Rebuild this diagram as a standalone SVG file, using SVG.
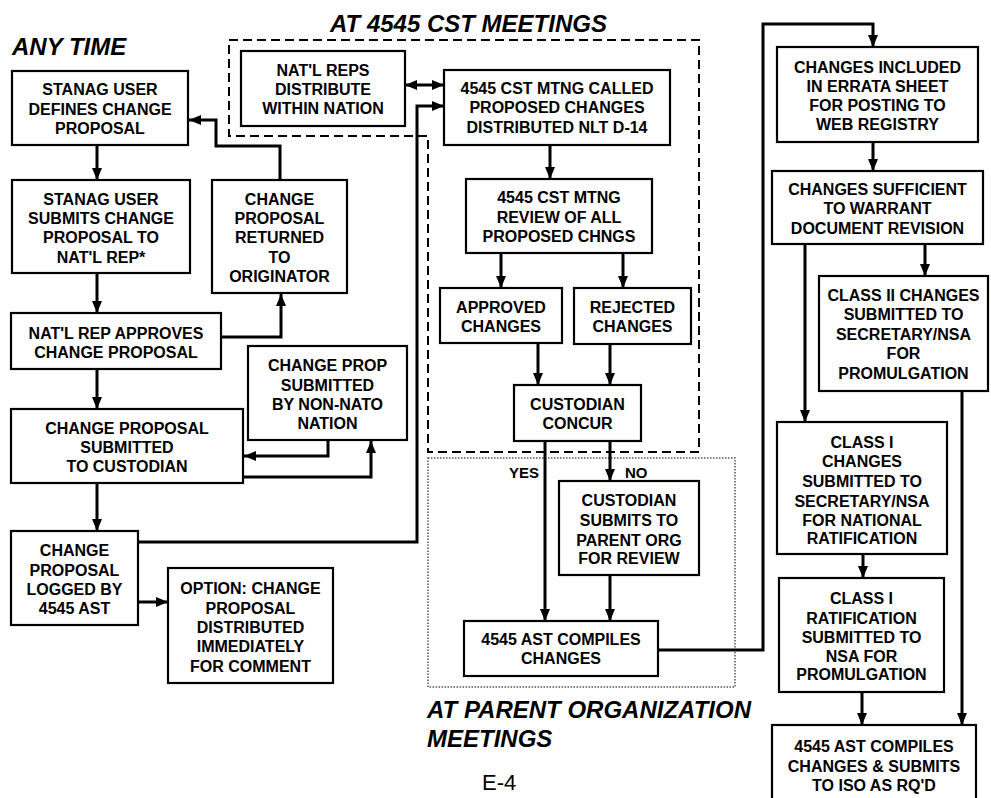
<svg xmlns="http://www.w3.org/2000/svg" width="991" height="798" viewBox="0 0 991 798">
<style>
.box{fill:#fff;stroke:#000;stroke-width:2.2}
.t{font-family:"Liberation Sans",Arial,sans-serif;font-size:16px;font-weight:bold;text-anchor:middle;fill:#000}
.h{font-family:"Liberation Sans",Arial,sans-serif;font-size:24px;font-weight:bold;font-style:italic;fill:#000}
.lbl{font-family:"Liberation Sans",Arial,sans-serif;font-size:15px;font-weight:bold;fill:#000}
.c{fill:none;stroke:#000;stroke-width:3;marker-end:url(#ah)}
.n{fill:none;stroke:#000;stroke-width:3}
</style>
<defs>
<marker id="ah" viewBox="0 0 12 10" markerWidth="12" markerHeight="10" refX="12" refY="5" orient="auto-start-reverse" markerUnits="userSpaceOnUse">
<path d="M0,0 L12,5 L0,10 z" fill="#000"/>
</marker>
</defs>
<rect width="991" height="798" fill="#fff"/>

<g id="regions">
<path d="M229,40 H699 V452 H428 V136 H229 Z" fill="none" stroke="#000" stroke-width="2" stroke-dasharray="9 5"/>
<rect x="428" y="458" width="307" height="229" fill="none" stroke="#555" stroke-width="1.5" stroke-dasharray="1.5 1.5"/>
</g>

<g id="headers">
<text class="h" x="12" y="55">ANY TIME</text>
<text class="h" x="330" y="32">AT 4545 CST MEETINGS</text>
<text class="h" x="427" y="718">AT PARENT ORGANIZATION</text>
<text class="h" x="427" y="747">MEETINGS</text>
<text x="482" y="790" font-family="Liberation Sans,Arial,sans-serif" font-size="22" fill="#000">E-4</text>
</g>

<g id="connectors">
<path class="c" d="M97,145 V180"/>
<path class="c" d="M280,180 V146 H216 V120 H189"/>
<path class="c" d="M97,273 V313"/>
<path class="c" d="M221,337 H281 V294"/>
<path class="c" d="M97,369 V409"/>
<path class="c" d="M328,440 V456 H244"/>
<path class="c" d="M243,477 H371 V441"/>
<path class="c" d="M97,483 V531"/>
<path class="c" d="M138,602 H168"/>
<path class="c" d="M138,542 H417 V106 H444"/>
<path class="c" d="M405,85 H444" marker-start="url(#ah)"/>
<path class="c" d="M550,145 V179"/>
<path class="c" d="M501,253 V288"/>
<path class="c" d="M623,253 V288"/>
<path class="c" d="M538,343 V385"/>
<path class="c" d="M610,344 V385"/>
<path class="c" d="M545,441 V621"/>
<path class="c" d="M610,441 V481"/>
<path class="c" d="M610,575 V621"/>
<path class="c" d="M658,650 H763 V24 H873 V47"/>
<path class="c" d="M873,142 V171"/>
<path class="c" d="M805,244 V422"/>
<path class="c" d="M925,244 V276"/>
<path class="c" d="M962,391 V725"/>
<path class="c" d="M863,554 V578"/>
<path class="c" d="M862,692 V725"/>
<text class="lbl" x="509" y="478">YES</text>
<text class="lbl" x="625" y="478">NO</text>
</g>

<g id="n-defines">
<rect class="box" x="12" y="71" width="176" height="74"/>
<text class="t" x="100" y="95">STANAG USER</text>
<text class="t" x="100" y="115">DEFINES CHANGE</text>
<text class="t" x="100" y="134">PROPOSAL</text>
</g>
<g id="n-submits">
<rect class="box" x="12" y="180" width="178" height="93"/>
<text class="t" x="101" y="205">STANAG USER</text>
<text class="t" x="101" y="224">SUBMITS CHANGE</text>
<text class="t" x="101" y="243">PROPOSAL TO</text>
<text class="t" x="101" y="263">NAT'L REP*</text>
</g>
<g id="n-returned">
<rect class="box" x="212" y="180" width="135" height="113"/>
<text class="t" x="279.5" y="205">CHANGE</text>
<text class="t" x="279.5" y="224">PROPOSAL</text>
<text class="t" x="279.5" y="243">RETURNED</text>
<text class="t" x="279.5" y="263">TO</text>
<text class="t" x="279.5" y="282">ORIGINATOR</text>
</g>
<g id="n-natreps">
<rect class="box" x="241" y="51" width="164" height="75"/>
<text class="t" x="323" y="76">NAT'L REPS</text>
<text class="t" x="323" y="95">DISTRIBUTE</text>
<text class="t" x="323" y="114">WITHIN NATION</text>
</g>
<g id="n-called">
<rect class="box" x="444" y="70" width="226" height="75"/>
<text class="t" x="557" y="94">4545 CST MTNG CALLED</text>
<text class="t" x="557" y="113">PROPOSED CHANGES</text>
<text class="t" x="557" y="133">DISTRIBUTED NLT D-14</text>
</g>
<g id="n-review">
<rect class="box" x="466" y="179" width="186" height="74"/>
<text class="t" x="559" y="203">4545 CST MTNG</text>
<text class="t" x="559" y="223">REVIEW OF ALL</text>
<text class="t" x="559" y="242">PROPOSED CHNGS</text>
</g>
<g id="n-approved">
<rect class="box" x="440" y="288" width="122" height="55"/>
<text class="t" x="501" y="313">APPROVED</text>
<text class="t" x="501" y="332">CHANGES</text>
</g>
<g id="n-rejected">
<rect class="box" x="574" y="288" width="117" height="56"/>
<text class="t" x="632.5" y="313">REJECTED</text>
<text class="t" x="632.5" y="332">CHANGES</text>
</g>
<g id="n-concur">
<rect class="box" x="514" y="385" width="127" height="56"/>
<text class="t" x="577.5" y="410">CUSTODIAN</text>
<text class="t" x="577.5" y="429">CONCUR</text>
</g>
<g id="n-parent">
<rect class="box" x="559" y="481" width="140" height="94"/>
<text class="t" x="629" y="506">CUSTODIAN</text>
<text class="t" x="629" y="526">SUBMITS TO</text>
<text class="t" x="629" y="546">PARENT ORG</text>
<text class="t" x="629" y="564">FOR REVIEW</text>
</g>
<g id="n-compiles">
<rect class="box" x="464" y="621" width="194" height="55"/>
<text class="t" x="561" y="645">4545 AST COMPILES</text>
<text class="t" x="561" y="664">CHANGES</text>
</g>
<g id="n-errata">
<rect class="box" x="777" y="47" width="201" height="95"/>
<text class="t" x="877.5" y="73">CHANGES INCLUDED</text>
<text class="t" x="877.5" y="92">IN ERRATA SHEET</text>
<text class="t" x="877.5" y="111">FOR POSTING TO</text>
<text class="t" x="877.5" y="130">WEB REGISTRY</text>
</g>
<g id="n-sufficient">
<rect class="box" x="772" y="171" width="211" height="73"/>
<text class="t" x="877.5" y="195">CHANGES SUFFICIENT</text>
<text class="t" x="877.5" y="214">TO WARRANT</text>
<text class="t" x="877.5" y="234">DOCUMENT REVISION</text>
</g>
<g id="n-class2">
<rect class="box" x="819" y="276" width="169" height="115"/>
<text class="t" x="903.5" y="301">CLASS II CHANGES</text>
<text class="t" x="903.5" y="320">SUBMITTED TO</text>
<text class="t" x="903.5" y="340">SECRETARY/NSA</text>
<text class="t" x="903.5" y="359">FOR</text>
<text class="t" x="903.5" y="379">PROMULGATION</text>
</g>
<g id="n-class1">
<rect class="box" x="777" y="422" width="170" height="132"/>
<text class="t" x="862" y="448">CLASS I</text>
<text class="t" x="862" y="467">CHANGES</text>
<text class="t" x="862" y="487">SUBMITTED TO</text>
<text class="t" x="862" y="507">SECRETARY/NSA</text>
<text class="t" x="862" y="526">FOR NATIONAL</text>
<text class="t" x="862" y="544">RATIFICATION</text>
</g>
<g id="n-ratification">
<rect class="box" x="779" y="578" width="165" height="114"/>
<text class="t" x="861.5" y="604">CLASS I</text>
<text class="t" x="861.5" y="624">RATIFICATION</text>
<text class="t" x="861.5" y="643">SUBMITTED TO</text>
<text class="t" x="861.5" y="662">NSA FOR</text>
<text class="t" x="861.5" y="680">PROMULGATION</text>
</g>
<g id="n-iso">
<rect class="box" x="772" y="725" width="204" height="85"/>
<text class="t" x="874" y="752">4545 AST COMPILES</text>
<text class="t" x="874" y="772">CHANGES &amp; SUBMITS</text>
<text class="t" x="874" y="791">TO ISO AS RQ'D</text>
</g>
<g id="n-approves">
<rect class="box" x="11" y="313" width="210" height="56"/>
<text class="t" x="116" y="339">NAT'L REP APPROVES</text>
<text class="t" x="116" y="358">CHANGE PROPOSAL</text>
</g>
<g id="n-nonnato">
<rect class="box" x="248" y="346" width="159" height="94"/>
<text class="t" x="327.5" y="371">CHANGE PROP</text>
<text class="t" x="327.5" y="391">SUBMITTED</text>
<text class="t" x="327.5" y="410">BY NON-NATO</text>
<text class="t" x="327.5" y="429">NATION</text>
</g>
<g id="n-custodian">
<rect class="box" x="11" y="409" width="232" height="74"/>
<text class="t" x="127" y="434">CHANGE PROPOSAL</text>
<text class="t" x="127" y="453">SUBMITTED</text>
<text class="t" x="127" y="472">TO CUSTODIAN</text>
</g>
<g id="n-logged">
<rect class="box" x="11" y="531" width="127" height="94"/>
<text class="t" x="74.5" y="556">CHANGE</text>
<text class="t" x="74.5" y="576">PROPOSAL</text>
<text class="t" x="74.5" y="595">LOGGED BY</text>
<text class="t" x="74.5" y="614">4545 AST</text>
</g>
<g id="n-option">
<rect class="box" x="168" y="568" width="165" height="115"/>
<text class="t" x="250.5" y="594">OPTION: CHANGE</text>
<text class="t" x="250.5" y="614">PROPOSAL</text>
<text class="t" x="250.5" y="633">DISTRIBUTED</text>
<text class="t" x="250.5" y="652">IMMEDIATELY</text>
<text class="t" x="250.5" y="672">FOR COMMENT</text>
</g>
</svg>
